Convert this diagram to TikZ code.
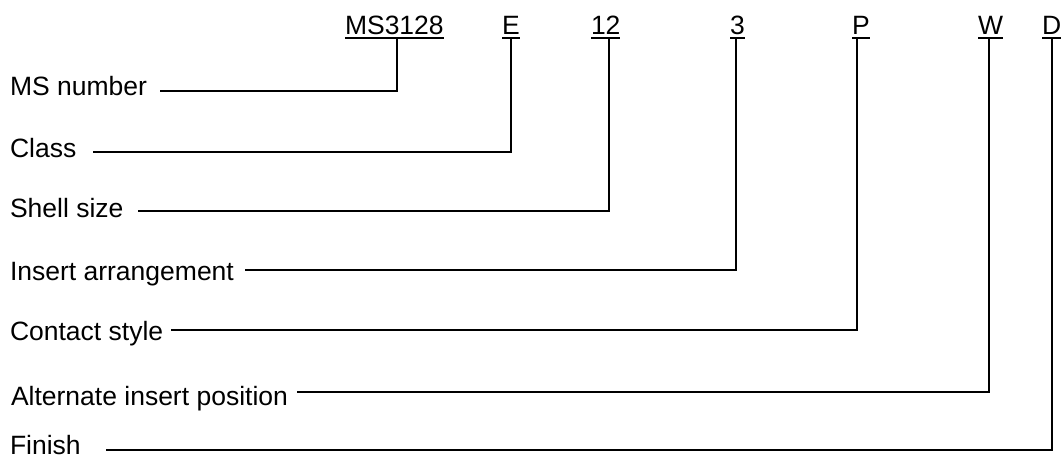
\documentclass[tikz,border=0pt]{standalone}
\usepackage{fontspec}
\setmainfont{Liberation Sans}
\begin{document}
\begin{tikzpicture}[x=1pt,y=-1pt,
  lbl/.style={inner sep=0pt,outer sep=0pt,anchor=base west,
    font=\fontsize{26.5}{30}\selectfont},
  wire/.style={line width=2pt,line join=miter},
  uline/.style={line width=2pt}]
\useasboundingbox (0,0) rectangle (1061,461);

% part number fields along the top
\node[lbl] (f1) at (345,34) {MS3128};
\node[lbl] (f2) at (502,34) {E};
\node[lbl] (f3) at (591,34) {12};
\node[lbl] (f4) at (730,34) {3};
\node[lbl] (f5) at (852,34) {P};
\node[lbl] (f6) at (978,34) {W};
\node[lbl] (f7) at (1042,34) {D};
\foreach \i in {1,...,7}
  \draw[uline] ([yshift=-3.5pt]f\i.base west) -- ([yshift=-3.5pt]f\i.base east);

% field descriptions down the left side
\node[lbl] (d1) at (10,95)  {MS number};
\node[lbl] (d2) at (10,157) {Class};
\node[lbl] (d3) at (10,217) {Shell size};
\node[lbl] (d4) at (10,280) {Insert arrangement};
\node[lbl] (d5) at (10,340) {Contact style};
\node[lbl] (d6) at (11,405) {Alternate insert position};
\node[lbl] (d7) at (10,454) {Finish};

% start points of the leader lines
\coordinate (s1) at (160,91);
\coordinate (s2) at (93,152);
\coordinate (s3) at (138,211);
\coordinate (s4) at (245,270);
\coordinate (s5) at (171,330);
\coordinate (s6) at (297,392);
\coordinate (s7) at (106,450);

% attachment points under each field
\coordinate (t1) at (397,37.5);
\coordinate (t2) at (511,37.5);
\coordinate (t3) at (609,37.5);
\coordinate (t4) at (736,37.5);
\coordinate (t5) at (857,37.5);
\coordinate (t6) at (989,37.5);
\coordinate (t7) at (1052,37.5);

\foreach \i in {1,...,7}
  \draw[wire] (s\i) -| (t\i);
\end{tikzpicture}
\end{document}
